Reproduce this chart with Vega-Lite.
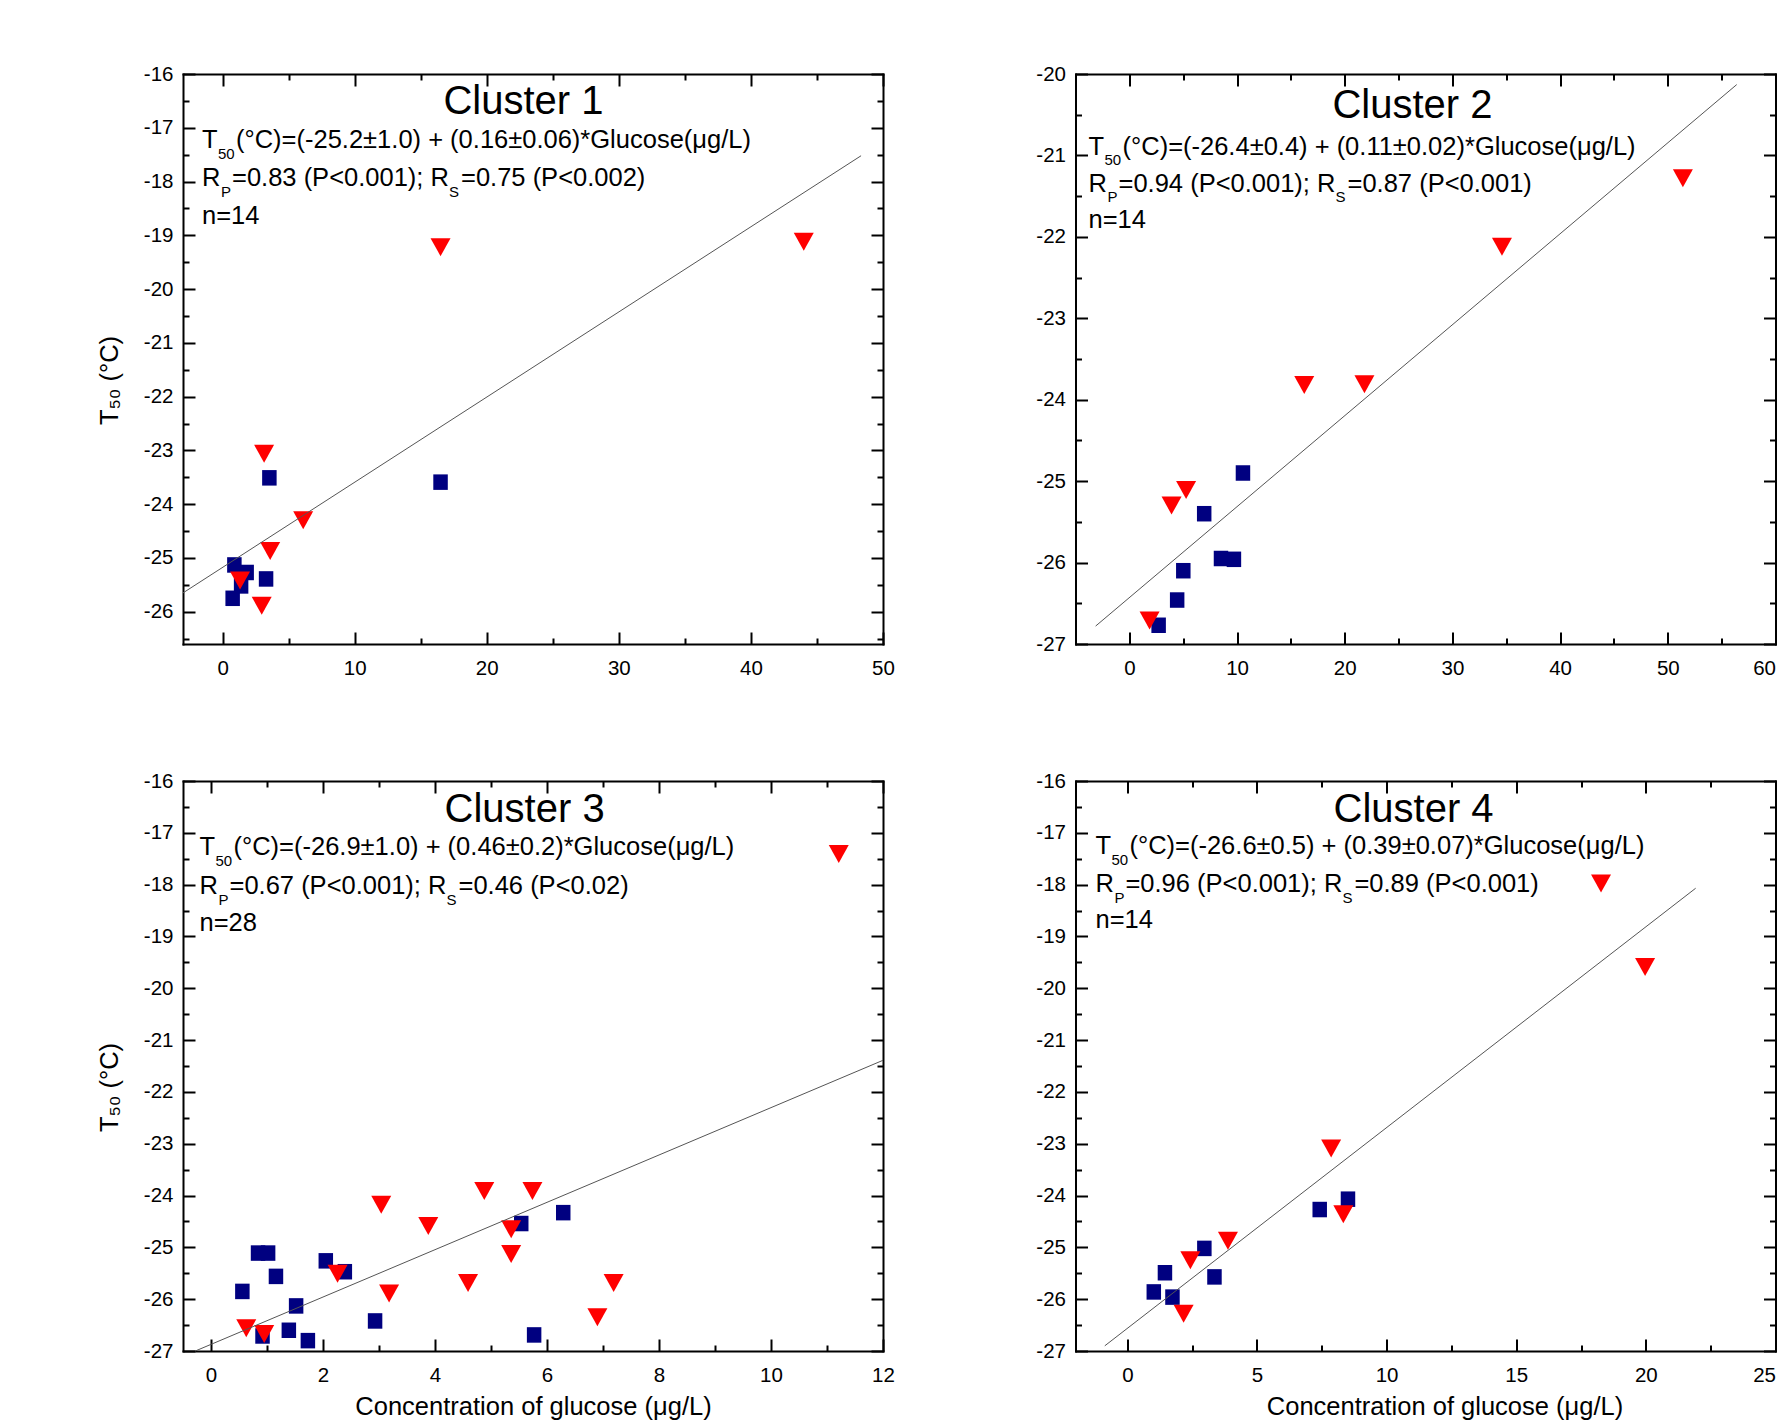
{
"$schema": "https://vega.github.io/schema/vega-lite/v6.json",
"background": "white",
"padding": {"left": 97, "top": 64, "right": 0, "bottom": 0},
"bounds": "flush",
"columns": 2,
"spacing": {"row": 137, "column": 192.5},
"config": {
  "font": "Liberation Sans",
  "view": {"stroke": null},
  "axis": {"grid": false, "domainColor": "#000", "domainWidth": 2, "domainCap": "square", "tickColor": "#000", "tickWidth": 2, "labelFont": "Liberation Sans", "labelFontSize": 20.5, "labelColor": "#000", "labelOverlap": false, "labelFlush": false, "titleFont": "Liberation Sans", "titleFontSize": 25.5, "titleFontWeight": "normal", "titleColor": "#000"},
  "text": {"font": "Liberation Sans", "fontSize": 25.5, "align": "left", "baseline": "alphabetic", "color": "#000"}
},
"datasets": {
  "pts1": [
    {"g":"s","x":16.5,"y":-23.59},{"g":"s","x":3.54,"y":-23.51},{"g":"s","x":0.89,"y":-25.13},{"g":"s","x":1.82,"y":-25.27},{"g":"s","x":3.29,"y":-25.39},{"g":"s","x":0.76,"y":-25.75},{"g":"s","x":1.4,"y":-25.52},
    {"g":"t","x":16.5,"y":-19.22},{"g":"t","x":44.0,"y":-19.12},{"g":"t","x":3.14,"y":-23.06},{"g":"t","x":6.1,"y":-24.30},{"g":"t","x":3.6,"y":-24.87},{"g":"t","x":1.32,"y":-25.42},{"g":"t","x":2.96,"y":-25.89}
  ],
  "pts2": [
    {"g":"s","x":10.55,"y":-24.90},{"g":"s","x":6.95,"y":-25.40},{"g":"s","x":5.01,"y":-26.10},{"g":"s","x":4.44,"y":-26.46},{"g":"s","x":2.72,"y":-26.77},{"g":"s","x":8.51,"y":-25.95},{"g":"s","x":9.71,"y":-25.96},
    {"g":"t","x":51.4,"y":-21.28},{"g":"t","x":34.6,"y":-22.12},{"g":"t","x":16.24,"y":-23.82},{"g":"t","x":21.83,"y":-23.81},{"g":"t","x":3.92,"y":-25.30},{"g":"t","x":5.27,"y":-25.11},{"g":"t","x":1.88,"y":-26.71}
  ],
  "pts3": [
    {"g":"s","x":0.84,"y":-25.11},{"g":"s","x":1.02,"y":-25.11},{"g":"s","x":0.56,"y":-25.85},{"g":"s","x":1.16,"y":-25.56},{"g":"s","x":2.05,"y":-25.26},{"g":"s","x":2.39,"y":-25.47},{"g":"s","x":1.52,"y":-26.13},{"g":"s","x":2.93,"y":-26.42},{"g":"s","x":1.39,"y":-26.60},{"g":"s","x":1.73,"y":-26.80},{"g":"s","x":0.92,"y":-26.71},{"g":"s","x":5.77,"y":-26.69},{"g":"s","x":5.54,"y":-24.54},{"g":"s","x":6.29,"y":-24.33},
    {"g":"t","x":11.21,"y":-17.41},{"g":"t","x":3.04,"y":-24.18},{"g":"t","x":4.88,"y":-23.91},{"g":"t","x":5.74,"y":-23.91},{"g":"t","x":3.88,"y":-24.59},{"g":"t","x":5.36,"y":-24.65},{"g":"t","x":5.36,"y":-25.13},{"g":"t","x":2.26,"y":-25.51},{"g":"t","x":3.18,"y":-25.89},{"g":"t","x":4.59,"y":-25.69},{"g":"t","x":7.19,"y":-25.69},{"g":"t","x":6.90,"y":-26.35},{"g":"t","x":0.63,"y":-26.56},{"g":"t","x":0.95,"y":-26.67}
  ],
  "pts4": [
    {"g":"s","x":8.51,"y":-24.07},{"g":"s","x":7.42,"y":-24.27},{"g":"s","x":2.97,"y":-25.02},{"g":"s","x":1.45,"y":-25.49},{"g":"s","x":3.36,"y":-25.57},{"g":"s","x":1.02,"y":-25.86},{"g":"s","x":1.74,"y":-25.96},
    {"g":"t","x":18.27,"y":-17.98},{"g":"t","x":19.97,"y":-19.59},{"g":"t","x":7.86,"y":-23.09},{"g":"t","x":8.33,"y":-24.36},{"g":"t","x":3.88,"y":-24.87},{"g":"t","x":2.43,"y":-25.25},{"g":"t","x":2.17,"y":-26.28}
  ],
  "fit1": [{"x":-3,"y":-25.65},{"x":48.34,"y":-17.52}],
  "fit2": [{"x":-3.13,"y":-26.78},{"x":56.4,"y":-20.13}],
  "fit3": [{"x":-0.28,"y":-27},{"x":12,"y":-21.39}],
  "fit4": [{"x":-0.87,"y":-26.90},{"x":21.92,"y":-18.07}],
  "txt1": [
    {"k":"title","x":22.78,"y":-16.74,"a":"Cluster 1"},
    {"k":"eq","x":-1.56,"y":-17.38,"a":"T","b":"50","c":"(°C)=(-25.2±1.0) + (0.16±0.06)*Glucose(μg/L)"},
    {"k":"r","x":-1.56,"y":-18.09,"a":"R","b":"P","c":"=0.83 (P<0.001); R","d":"S","e":"=0.75 (P<0.002)"},
    {"k":"n","x":-1.56,"y":-18.79,"a":"n=14"}
  ],
  "txt2": [
    {"k":"title","x":26.29,"y":-20.54,"a":"Cluster 2"},
    {"k":"eq","x":-3.79,"y":-20.99,"a":"T","b":"50","c":"(°C)=(-26.4±0.4) + (0.11±0.02)*Glucose(μg/L)"},
    {"k":"r","x":-3.79,"y":-21.445,"a":"R","b":"P","c":"=0.94 (P<0.001); R","d":"S","e":"=0.87 (P<0.001)"},
    {"k":"n","x":-3.79,"y":-21.895,"a":"n=14"}
  ],
  "txt3": [
    {"k":"title","x":5.6,"y":-16.79,"a":"Cluster 3"},
    {"k":"eq","x":-0.205,"y":-17.436,"a":"T","b":"50","c":"(°C)=(-26.9±1.0) + (0.46±0.2)*Glucose(μg/L)"},
    {"k":"r","x":-0.205,"y":-18.19,"a":"R","b":"P","c":"=0.67 (P<0.001); R","d":"S","e":"=0.46 (P<0.02)"},
    {"k":"n","x":-0.205,"y":-18.90,"a":"n=28"}
  ],
  "txt4": [
    {"k":"title","x":11.04,"y":-16.79,"a":"Cluster 4"},
    {"k":"eq","x":-1.23,"y":-17.41,"a":"T","b":"50","c":"(°C)=(-26.6±0.5) + (0.39±0.07)*Glucose(μg/L)"},
    {"k":"r","x":-1.23,"y":-18.14,"a":"R","b":"P","c":"=0.96 (P<0.001); R","d":"S","e":"=0.89 (P<0.001)"},
    {"k":"n","x":-1.23,"y":-18.84,"a":"n=14"}
  ]
},
"concat": [
{
 "width": 700, "height": 570,
 "resolve": {"axis": {"x": "independent", "y": "independent"}},
 "layer": [
  {
   "encoding": {
    "x": {"field":"x","type":"quantitative","scale":{"domain":[-3,50],"nice":false,"zero":false},"axis":{"orient":"bottom","title":null,"values":[0,5,10,15,20,25,30,35,40,45,50],"labelExpr":"datum.value % 10 === 0 ? '' + datum.value : ''","tickSize":{"condition":{"test":"datum.value % 10 === 0","value":-12},"value":-6},"labelPadding":26}},
    "y": {"field":"y","type":"quantitative","scale":{"domain":[-26.6,-16],"nice":false,"zero":false},"axis":{"orient":"left","title":"T₅₀ (°C)","titlePadding":21,"titleY":306,"values":[-26.5,-26,-25.5,-25,-24.5,-24,-23.5,-23,-22.5,-22,-21.5,-21,-20.5,-20,-19.5,-19,-18.5,-18,-17.5,-17,-16.5,-16],"labelExpr":"datum.value % 1 === 0 ? '' + datum.value : ''","tickSize":{"condition":{"test":"datum.value % 1 === 0","value":-12},"value":-6},"labelPadding":22}}
   },
   "layer": [
    {"data":{"name":"pts1"},"mark":{"type":"point","filled":true,"opacity":1},"encoding":{"shape":{"field":"g","type":"nominal","scale":{"domain":["s","t"],"range":["M-1,-1.07L1,-1.07L1,1.07L-1,1.07Z","M-1,-0.9L1,-0.9L0,0.9Z"]},"legend":null},"color":{"field":"g","type":"nominal","scale":{"domain":["s","t"],"range":["#000080","#ff0000"]},"legend":null},"size":{"field":"g","type":"ordinal","scale":{"domain":["s","t"],"range":[210,400]},"legend":null}}},
    {"data":{"name":"txt1"},"transform":[{"filter":"datum.k === 'title'"}],"mark":{"type":"text","align":"center","fontSize":40},"encoding":{"text":{"field":"a","type":"nominal"}}},
    {"data":{"name":"txt1"},"transform":[{"filter":"datum.k !== 'title'"}],"mark":{"type":"text"},"encoding":{"text":{"field":"a","type":"nominal"}}},
    {"data":{"name":"txt1"},"transform":[{"filter":"datum.k === 'eq'"}],"mark":{"type":"text","fontSize":15,"dx":16,"dy":10.7},"encoding":{"text":{"field":"b","type":"nominal"}}},
    {"data":{"name":"txt1"},"transform":[{"filter":"datum.k === 'eq'"}],"mark":{"type":"text","dx":34},"encoding":{"text":{"field":"c","type":"nominal"}}},
    {"data":{"name":"txt1"},"transform":[{"filter":"datum.k === 'r'"}],"mark":{"type":"text","fontSize":15,"dx":19,"dy":10.7},"encoding":{"text":{"field":"b","type":"nominal"}}},
    {"data":{"name":"txt1"},"transform":[{"filter":"datum.k === 'r'"}],"mark":{"type":"text","dx":30},"encoding":{"text":{"field":"c","type":"nominal"}}},
    {"data":{"name":"txt1"},"transform":[{"filter":"datum.k === 'r'"}],"mark":{"type":"text","fontSize":15,"dx":247,"dy":10.7},"encoding":{"text":{"field":"d","type":"nominal"}}},
    {"data":{"name":"txt1"},"transform":[{"filter":"datum.k === 'r'"}],"mark":{"type":"text","dx":259},"encoding":{"text":{"field":"e","type":"nominal"}}}
   ]
  },
  {
   "data":{"name":"fit1"},
   "mark":{"type":"line","color":"#555555","strokeWidth":1},
   "encoding": {
    "x": {"field":"x","type":"quantitative","scale":{"domain":[-3,50],"nice":false,"zero":false},"axis":{"orient":"top","title":null,"labels":false,"values":[0,5,10,15,20,25,30,35,40,45,50],"tickSize":{"condition":{"test":"datum.value % 10 === 0","value":-12},"value":-6}}},
    "y": {"field":"y","type":"quantitative","scale":{"domain":[-26.6,-16],"nice":false,"zero":false},"axis":{"orient":"right","title":null,"labels":false,"values":[-26.5,-26,-25.5,-25,-24.5,-24,-23.5,-23,-22.5,-22,-21.5,-21,-20.5,-20,-19.5,-19,-18.5,-18,-17.5,-17,-16.5,-16],"tickSize":{"condition":{"test":"datum.value % 1 === 0","value":-12},"value":-6}}}
   }
  }
 ]
},
{
 "width": 700, "height": 570,
 "resolve": {"axis": {"x": "independent", "y": "independent"}},
 "layer": [
  {
   "encoding": {
    "x": {"field":"x","type":"quantitative","scale":{"domain":[-5,60],"nice":false,"zero":false},"axis":{"orient":"bottom","title":null,"labelFlush":true,"values":[0,5,10,15,20,25,30,35,40,45,50,55,60],"labelExpr":"datum.value % 10 === 0 ? '' + datum.value : ''","tickSize":{"condition":{"test":"datum.value % 10 === 0","value":-12},"value":-6},"labelPadding":26}},
    "y": {"field":"y","type":"quantitative","scale":{"domain":[-27,-20],"nice":false,"zero":false},"axis":{"orient":"left","title":null,"values":[-27,-26.5,-26,-25.5,-25,-24.5,-24,-23.5,-23,-22.5,-22,-21.5,-21,-20.5,-20],"labelExpr":"datum.value % 1 === 0 ? '' + datum.value : ''","tickSize":{"condition":{"test":"datum.value % 1 === 0","value":-12},"value":-6},"labelPadding":22}}
   },
   "layer": [
    {"data":{"name":"pts2"},"mark":{"type":"point","filled":true,"opacity":1},"encoding":{"shape":{"field":"g","type":"nominal","scale":{"domain":["s","t"],"range":["M-1,-1.07L1,-1.07L1,1.07L-1,1.07Z","M-1,-0.9L1,-0.9L0,0.9Z"]},"legend":null},"color":{"field":"g","type":"nominal","scale":{"domain":["s","t"],"range":["#000080","#ff0000"]},"legend":null},"size":{"field":"g","type":"ordinal","scale":{"domain":["s","t"],"range":[210,400]},"legend":null}}},
    {"data":{"name":"txt2"},"transform":[{"filter":"datum.k === 'title'"}],"mark":{"type":"text","align":"center","fontSize":40},"encoding":{"text":{"field":"a","type":"nominal"}}},
    {"data":{"name":"txt2"},"transform":[{"filter":"datum.k !== 'title'"}],"mark":{"type":"text"},"encoding":{"text":{"field":"a","type":"nominal"}}},
    {"data":{"name":"txt2"},"transform":[{"filter":"datum.k === 'eq'"}],"mark":{"type":"text","fontSize":15,"dx":16,"dy":10.7},"encoding":{"text":{"field":"b","type":"nominal"}}},
    {"data":{"name":"txt2"},"transform":[{"filter":"datum.k === 'eq'"}],"mark":{"type":"text","dx":34},"encoding":{"text":{"field":"c","type":"nominal"}}},
    {"data":{"name":"txt2"},"transform":[{"filter":"datum.k === 'r'"}],"mark":{"type":"text","fontSize":15,"dx":19,"dy":10.7},"encoding":{"text":{"field":"b","type":"nominal"}}},
    {"data":{"name":"txt2"},"transform":[{"filter":"datum.k === 'r'"}],"mark":{"type":"text","dx":30},"encoding":{"text":{"field":"c","type":"nominal"}}},
    {"data":{"name":"txt2"},"transform":[{"filter":"datum.k === 'r'"}],"mark":{"type":"text","fontSize":15,"dx":247,"dy":10.7},"encoding":{"text":{"field":"d","type":"nominal"}}},
    {"data":{"name":"txt2"},"transform":[{"filter":"datum.k === 'r'"}],"mark":{"type":"text","dx":259},"encoding":{"text":{"field":"e","type":"nominal"}}}
   ]
  },
  {
   "data":{"name":"fit2"},
   "mark":{"type":"line","color":"#555555","strokeWidth":1},
   "encoding": {
    "x": {"field":"x","type":"quantitative","scale":{"domain":[-5,60],"nice":false,"zero":false},"axis":{"orient":"top","title":null,"labels":false,"values":[0,5,10,15,20,25,30,35,40,45,50,55,60],"tickSize":{"condition":{"test":"datum.value % 10 === 0","value":-12},"value":-6}}},
    "y": {"field":"y","type":"quantitative","scale":{"domain":[-27,-20],"nice":false,"zero":false},"axis":{"orient":"right","title":null,"labels":false,"values":[-27,-26.5,-26,-25.5,-25,-24.5,-24,-23.5,-23,-22.5,-22,-21.5,-21,-20.5,-20],"tickSize":{"condition":{"test":"datum.value % 1 === 0","value":-12},"value":-6}}}
   }
  }
 ]
},
{
 "width": 700, "height": 570,
 "resolve": {"axis": {"x": "independent", "y": "independent"}},
 "layer": [
  {
   "encoding": {
    "x": {"field":"x","type":"quantitative","scale":{"domain":[-0.5,12],"nice":false,"zero":false},"axis":{"orient":"bottom","title":"Concentration of glucose (μg/L)","titlePadding":3,"values":[0,1,2,3,4,5,6,7,8,9,10,11,12],"labelExpr":"datum.value % 2 === 0 ? '' + datum.value : ''","tickSize":{"condition":{"test":"datum.value % 2 === 0","value":-12},"value":-6},"labelPadding":26}},
    "y": {"field":"y","type":"quantitative","scale":{"domain":[-27,-16],"nice":false,"zero":false},"axis":{"orient":"left","title":"T₅₀ (°C)","titlePadding":21,"titleY":306,"values":[-27,-26.5,-26,-25.5,-25,-24.5,-24,-23.5,-23,-22.5,-22,-21.5,-21,-20.5,-20,-19.5,-19,-18.5,-18,-17.5,-17,-16.5,-16],"labelExpr":"datum.value % 1 === 0 ? '' + datum.value : ''","tickSize":{"condition":{"test":"datum.value % 1 === 0","value":-12},"value":-6},"labelPadding":22}}
   },
   "layer": [
    {"data":{"name":"pts3"},"mark":{"type":"point","filled":true,"opacity":1},"encoding":{"shape":{"field":"g","type":"nominal","scale":{"domain":["s","t"],"range":["M-1,-1.07L1,-1.07L1,1.07L-1,1.07Z","M-1,-0.9L1,-0.9L0,0.9Z"]},"legend":null},"color":{"field":"g","type":"nominal","scale":{"domain":["s","t"],"range":["#000080","#ff0000"]},"legend":null},"size":{"field":"g","type":"ordinal","scale":{"domain":["s","t"],"range":[210,400]},"legend":null}}},
    {"data":{"name":"txt3"},"transform":[{"filter":"datum.k === 'title'"}],"mark":{"type":"text","align":"center","fontSize":40},"encoding":{"text":{"field":"a","type":"nominal"}}},
    {"data":{"name":"txt3"},"transform":[{"filter":"datum.k !== 'title'"}],"mark":{"type":"text"},"encoding":{"text":{"field":"a","type":"nominal"}}},
    {"data":{"name":"txt3"},"transform":[{"filter":"datum.k === 'eq'"}],"mark":{"type":"text","fontSize":15,"dx":16,"dy":10.7},"encoding":{"text":{"field":"b","type":"nominal"}}},
    {"data":{"name":"txt3"},"transform":[{"filter":"datum.k === 'eq'"}],"mark":{"type":"text","dx":34},"encoding":{"text":{"field":"c","type":"nominal"}}},
    {"data":{"name":"txt3"},"transform":[{"filter":"datum.k === 'r'"}],"mark":{"type":"text","fontSize":15,"dx":19,"dy":10.7},"encoding":{"text":{"field":"b","type":"nominal"}}},
    {"data":{"name":"txt3"},"transform":[{"filter":"datum.k === 'r'"}],"mark":{"type":"text","dx":30},"encoding":{"text":{"field":"c","type":"nominal"}}},
    {"data":{"name":"txt3"},"transform":[{"filter":"datum.k === 'r'"}],"mark":{"type":"text","fontSize":15,"dx":247,"dy":10.7},"encoding":{"text":{"field":"d","type":"nominal"}}},
    {"data":{"name":"txt3"},"transform":[{"filter":"datum.k === 'r'"}],"mark":{"type":"text","dx":259},"encoding":{"text":{"field":"e","type":"nominal"}}}
   ]
  },
  {
   "data":{"name":"fit3"},
   "mark":{"type":"line","color":"#555555","strokeWidth":1},
   "encoding": {
    "x": {"field":"x","type":"quantitative","scale":{"domain":[-0.5,12],"nice":false,"zero":false},"axis":{"orient":"top","title":null,"labels":false,"values":[0,1,2,3,4,5,6,7,8,9,10,11,12],"tickSize":{"condition":{"test":"datum.value % 2 === 0","value":-12},"value":-6}}},
    "y": {"field":"y","type":"quantitative","scale":{"domain":[-27,-16],"nice":false,"zero":false},"axis":{"orient":"right","title":null,"labels":false,"values":[-27,-26.5,-26,-25.5,-25,-24.5,-24,-23.5,-23,-22.5,-22,-21.5,-21,-20.5,-20,-19.5,-19,-18.5,-18,-17.5,-17,-16.5,-16],"tickSize":{"condition":{"test":"datum.value % 1 === 0","value":-12},"value":-6}}}
   }
  }
 ]
},
{
 "width": 700, "height": 570,
 "resolve": {"axis": {"x": "independent", "y": "independent"}},
 "layer": [
  {
   "encoding": {
    "x": {"field":"x","type":"quantitative","scale":{"domain":[-2,25],"nice":false,"zero":false},"axis":{"orient":"bottom","title":"Concentration of glucose (μg/L)","titlePadding":3,"titleX":369,"labelFlush":true,"values":[0,2.5,5,7.5,10,12.5,15,17.5,20,22.5,25],"labelExpr":"datum.value % 5 === 0 ? '' + datum.value : ''","tickSize":{"condition":{"test":"datum.value % 5 === 0","value":-12},"value":-6},"labelPadding":26}},
    "y": {"field":"y","type":"quantitative","scale":{"domain":[-27,-16],"nice":false,"zero":false},"axis":{"orient":"left","title":null,"values":[-27,-26.5,-26,-25.5,-25,-24.5,-24,-23.5,-23,-22.5,-22,-21.5,-21,-20.5,-20,-19.5,-19,-18.5,-18,-17.5,-17,-16.5,-16],"labelExpr":"datum.value % 1 === 0 ? '' + datum.value : ''","tickSize":{"condition":{"test":"datum.value % 1 === 0","value":-12},"value":-6},"labelPadding":22}}
   },
   "layer": [
    {"data":{"name":"pts4"},"mark":{"type":"point","filled":true,"opacity":1},"encoding":{"shape":{"field":"g","type":"nominal","scale":{"domain":["s","t"],"range":["M-1,-1.07L1,-1.07L1,1.07L-1,1.07Z","M-1,-0.9L1,-0.9L0,0.9Z"]},"legend":null},"color":{"field":"g","type":"nominal","scale":{"domain":["s","t"],"range":["#000080","#ff0000"]},"legend":null},"size":{"field":"g","type":"ordinal","scale":{"domain":["s","t"],"range":[210,400]},"legend":null}}},
    {"data":{"name":"txt4"},"transform":[{"filter":"datum.k === 'title'"}],"mark":{"type":"text","align":"center","fontSize":40},"encoding":{"text":{"field":"a","type":"nominal"}}},
    {"data":{"name":"txt4"},"transform":[{"filter":"datum.k !== 'title'"}],"mark":{"type":"text"},"encoding":{"text":{"field":"a","type":"nominal"}}},
    {"data":{"name":"txt4"},"transform":[{"filter":"datum.k === 'eq'"}],"mark":{"type":"text","fontSize":15,"dx":16,"dy":10.7},"encoding":{"text":{"field":"b","type":"nominal"}}},
    {"data":{"name":"txt4"},"transform":[{"filter":"datum.k === 'eq'"}],"mark":{"type":"text","dx":34},"encoding":{"text":{"field":"c","type":"nominal"}}},
    {"data":{"name":"txt4"},"transform":[{"filter":"datum.k === 'r'"}],"mark":{"type":"text","fontSize":15,"dx":19,"dy":10.7},"encoding":{"text":{"field":"b","type":"nominal"}}},
    {"data":{"name":"txt4"},"transform":[{"filter":"datum.k === 'r'"}],"mark":{"type":"text","dx":30},"encoding":{"text":{"field":"c","type":"nominal"}}},
    {"data":{"name":"txt4"},"transform":[{"filter":"datum.k === 'r'"}],"mark":{"type":"text","fontSize":15,"dx":247,"dy":10.7},"encoding":{"text":{"field":"d","type":"nominal"}}},
    {"data":{"name":"txt4"},"transform":[{"filter":"datum.k === 'r'"}],"mark":{"type":"text","dx":259},"encoding":{"text":{"field":"e","type":"nominal"}}}
   ]
  },
  {
   "data":{"name":"fit4"},
   "mark":{"type":"line","color":"#555555","strokeWidth":1},
   "encoding": {
    "x": {"field":"x","type":"quantitative","scale":{"domain":[-2,25],"nice":false,"zero":false},"axis":{"orient":"top","title":null,"labels":false,"values":[0,2.5,5,7.5,10,12.5,15,17.5,20,22.5,25],"tickSize":{"condition":{"test":"datum.value % 5 === 0","value":-12},"value":-6}}},
    "y": {"field":"y","type":"quantitative","scale":{"domain":[-27,-16],"nice":false,"zero":false},"axis":{"orient":"right","title":null,"labels":false,"values":[-27,-26.5,-26,-25.5,-25,-24.5,-24,-23.5,-23,-22.5,-22,-21.5,-21,-20.5,-20,-19.5,-19,-18.5,-18,-17.5,-17,-16.5,-16],"tickSize":{"condition":{"test":"datum.value % 1 === 0","value":-12},"value":-6}}}
   }
  }
 ]
}
]
}
